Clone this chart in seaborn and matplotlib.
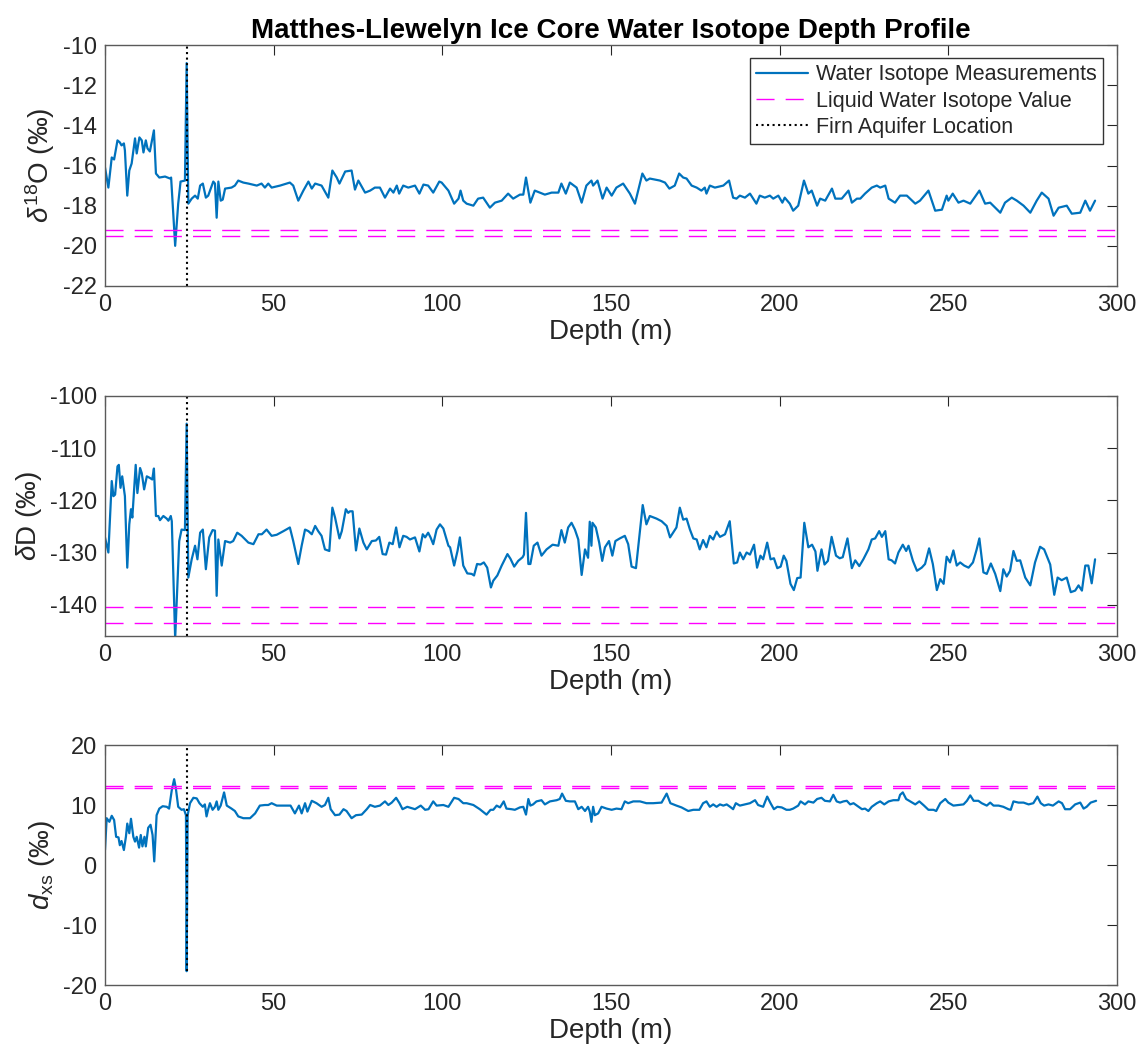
import numpy as np
import pandas as pd
import matplotlib
matplotlib.use("Agg")
import matplotlib.pyplot as plt
import seaborn as sns

# ---------------- data ----------------
d18o_depth = [0, 1.0, 2.0, 2.7, 3.7, 4.4, 4.9, 5.6, 5.9, 6.6, 7.2, 7.9, 8.9, 9.4, 10.2, 10.9, 11.4, 12.1, 12.6, 13.3,
              14.5, 15.1, 16.1, 17.8, 19.3, 19.6, 20.8, 21.7, 22.4, 23.7, 24.2, 24.7, 25.7, 26.7, 27.5, 28.2, 29.0, 29.9,
              30.6, 32.1, 32.6, 33.1, 33.6, 34.3, 34.9, 35.6, 37.5, 38.5, 39.5, 41.0, 42.5, 45.0, 46.4, 47.4, 48.4, 49.4,
              51.9, 54.8, 55.8, 57.3, 58.8, 60.3, 61.3, 62.3, 64.2, 66.2, 67.4, 68.7, 69.5, 71.2, 73.1, 74.1, 75.1, 77.1,
              78.6, 80.0, 81.5, 83.0, 84.5, 85.5, 86.5, 87.2, 88.4, 89.9, 91.9, 93.2, 94.4, 95.8, 97.3, 99.1, 99.8, 101.8,
              103.5, 104.8, 105.4, 106.2, 107.2, 109.2, 110.6, 112.1, 114.1, 115.6, 117.6, 119.5, 121.0, 123.0, 124.0,
              124.8, 126.1, 127.4, 128.9, 130.4, 132.4, 134.4, 135.3, 136.6, 137.8, 139.8, 141.3, 142.7, 144.2, 144.7,
              146.0, 147.5, 148.7, 150.2, 151.6, 153.6, 155.6, 157.1, 159.3, 160.5, 161.5, 164.5, 166.0, 167.3, 168.9,
              170.2, 171.4, 172.4, 173.9, 175.4, 176.8, 177.8, 178.3, 179.3, 180.8, 183.3, 185.0, 186.2, 187.2, 188.2,
              189.7, 191.2, 193.1, 194.1, 195.6, 197.1, 198.1, 199.6, 200.8, 201.5, 203.0, 204.0, 205.5, 207.2, 208.5,
              209.5, 211.1, 212.0, 213.5, 215.5, 216.5, 218.4, 220.4, 221.4, 222.9, 223.9, 225.3, 227.3, 228.8, 229.8,
              231.3, 232.3, 234.2, 235.7, 237.7, 240.2, 241.6, 244.1, 246.1, 248.1, 249.5, 250.0, 251.3, 253.0, 254.5,
              256.5, 259.2, 260.9, 262.4, 263.9, 265.4, 266.8, 268.8, 270.3, 272.3, 274.3, 276.2, 277.7, 279.7, 281.2,
              282.7, 285.1, 286.6, 289.1, 290.6, 292.0, 293.5]
d18o_value = [-16.1, -17.1, -15.6, -15.7, -14.75, -14.85, -15.0, -14.9, -15.25, -17.5, -16.25, -15.9, -14.65, -15.4,
              -14.6, -14.75, -15.35, -14.75, -15.15, -15.3, -14.25, -16.4, -16.6, -16.55, -16.65, -16.6, -20.0, -17.9,
              -16.8, -16.75, -10.9, -17.9, -17.65, -17.5, -17.65, -17.0, -16.9, -17.6, -17.5, -16.8, -16.9, -18.6,
              -16.8, -17.75, -17.7, -17.15, -17.1, -17.0, -16.75, -16.85, -16.9, -17.0, -16.9, -17.1, -16.9, -17.1,
              -17.0, -16.85, -17.0, -17.75, -17.25, -16.8, -17.15, -16.9, -17.0, -17.6, -16.25, -16.6, -16.9, -16.3,
              -16.25, -17.2, -16.75, -17.35, -17.25, -17.1, -17.1, -17.6, -17.15, -17.35, -17.0, -17.4, -17.0, -17.1,
              -17.0, -17.4, -16.95, -17.0, -17.35, -16.8, -16.85, -17.25, -17.9, -17.65, -17.25, -17.75, -17.9, -18.0,
              -17.65, -17.6, -18.1, -17.85, -17.75, -17.4, -17.65, -17.45, -17.45, -16.6, -17.85, -17.25, -17.35,
              -17.45, -17.35, -17.35, -16.9, -17.4, -16.85, -17.1, -17.85, -17.0, -16.75, -17.0, -16.75, -17.65, -17.1,
              -17.5, -17.1, -16.9, -17.4, -17.9, -16.4, -16.75, -16.65, -16.75, -16.85, -17.15, -17.0, -16.4, -16.6,
              -16.65, -17.0, -17.1, -17.25, -17.1, -17.4, -17.0, -17.1, -17.0, -16.75, -17.6, -17.65, -17.5, -17.6,
              -17.4, -17.9, -17.5, -17.6, -17.5, -17.65, -17.5, -17.85, -17.6, -17.9, -18.25, -18.0, -16.75, -17.4,
              -17.25, -18.0, -17.65, -17.75, -17.15, -17.65, -17.65, -17.25, -17.85, -17.65, -17.65, -17.4, -17.1,
              -17.0, -17.1, -17.0, -17.65, -17.85, -17.5, -17.5, -17.9, -17.75, -17.25, -18.25, -18.2, -17.5, -17.75,
              -17.4, -17.85, -17.75, -17.9, -17.25, -17.9, -17.85, -18.1, -18.35, -17.85, -17.6, -17.75, -18.0, -18.35,
              -17.75, -17.35, -17.65, -18.5, -18.1, -18.0, -18.4, -18.35, -17.75, -18.25, -17.75]

dD_depth = [0, 1.0, 2.0, 2.5, 3.0, 3.7, 4.1, 4.6, 5.1, 5.9, 6.6, 7.2, 7.7, 8.1, 9.1, 9.6, 10.4, 10.9, 11.6, 12.4, 13.3,
            14.0, 14.5, 15.1, 15.8, 16.3, 17.3, 18.3, 18.8, 19.5, 19.8, 20.8, 22.0, 22.7, 23.7, 24.2, 24.7, 25.7, 26.7,
            27.4, 28.2, 29.0, 29.9, 30.9, 31.9, 32.6, 33.1, 33.6, 34.6, 35.6, 37.1, 38.0, 39.2, 40.5, 42.5, 44.0, 45.5,
            46.5, 47.9, 49.4, 50.9, 52.9, 54.8, 55.8, 57.3, 58.3, 59.3, 60.3, 61.3, 62.3, 63.2, 64.2, 65.2, 66.5, 67.4,
            68.2, 69.5, 70.2, 71.4, 72.1, 72.6, 73.4, 74.4, 75.4, 76.6, 77.6, 79.1, 80.3, 81.3, 82.3, 83.3, 84.3, 85.3,
            86.3, 87.3, 88.4, 89.4, 90.4, 91.9, 93.2, 94.2, 94.9, 95.8, 96.5, 97.3, 98.3, 99.3, 100.3, 101.8, 102.3,
            103.5, 104.5, 105.2, 106.2, 107.4, 108.7, 109.4, 110.3, 111.3, 112.3, 113.3, 114.4, 115.1, 116.3, 117.6,
            119.3, 120.2, 121.3, 122.5, 123.8, 124.2, 124.8, 125.5, 126.1, 127.1, 128.2, 129.4, 130.9, 132.7, 134.4,
            135.3, 136.3, 137.3, 138.3, 139.3, 140.3, 141.3, 142.3, 143.2, 143.7, 144.2, 144.5, 145.5, 146.5, 147.4,
            148.2, 149.4, 150.4, 151.3, 152.6, 154.1, 155.1, 156.1, 157.4, 159.4, 160.5, 161.5, 163.5, 165.0, 166.5,
            167.5, 168.4, 169.4, 170.4, 171.4, 172.4, 173.4, 174.4, 175.4, 176.3, 177.3, 178.3, 179.3, 180.3, 181.3,
            182.3, 183.8, 185.2, 186.4, 187.4, 188.2, 189.2, 190.2, 191.2, 192.4, 193.3, 194.3, 195.1, 196.3, 197.3,
            198.3, 199.3, 200.3, 201.2, 202.0, 203.2, 204.2, 205.2, 206.2, 207.3, 208.5, 209.6, 210.6, 211.2, 212.4,
            213.3, 214.3, 215.4, 216.7, 217.8, 218.7, 220.1, 221.4, 222.4, 223.6, 224.8, 226.3, 227.3, 228.3, 229.5,
            230.3, 231.3, 232.3, 233.2, 234.2, 235.2, 236.5, 237.5, 238.2, 239.5, 240.7, 242.1, 243.1, 244.3, 245.4,
            246.6, 247.6, 248.6, 249.5, 250.5, 251.5, 252.5, 253.5, 254.7, 256.0, 257.3, 258.4, 259.2, 260.4, 261.4,
            262.6, 263.9, 265.4, 266.3, 267.3, 268.3, 269.3, 270.3, 271.3, 272.8, 274.3, 275.7, 277.2, 278.4, 280.2,
            281.4, 282.4, 283.6, 285.1, 286.3, 287.6, 288.6, 289.6, 290.6, 291.5, 292.5, 293.5]
dD_value = [-127.1, -130.0, -116.3, -119.2, -118.9, -113.5, -113.2, -117.6, -115.4, -119.2, -132.9, -124.6, -121.7,
            -123.3, -113.2, -118.6, -113.8, -114.8, -117.9, -115.4, -115.7, -116.0, -113.9, -123.0, -123.0, -123.8,
            -123.0, -123.5, -123.9, -123.0, -124.0, -146.5, -127.8, -125.6, -125.7, -105.3, -134.8, -131.3, -128.7,
            -131.3, -126.2, -125.6, -133.2, -127.1, -125.7, -125.8, -138.3, -127.5, -132.5, -127.8, -128.1, -127.8,
            -126.2, -126.8, -128.1, -128.4, -126.5, -126.5, -125.6, -126.8, -126.6, -125.9, -125.2, -127.8, -132.2,
            -128.7, -125.6, -125.9, -126.5, -124.9, -125.9, -126.8, -129.4, -129.7, -121.4, -123.3, -127.3, -125.9,
            -121.7, -122.4, -122.1, -122.1, -129.6, -125.4, -128.1, -129.4, -127.8, -127.7, -127.0, -130.3, -130.4,
            -128.1, -128.4, -125.2, -129.0, -126.8, -127.0, -127.5, -127.1, -129.8, -126.5, -127.1, -126.2, -127.1,
            -128.4, -125.6, -124.6, -125.4, -128.7, -129.0, -132.5, -129.7, -127.1, -132.5, -134.0, -134.1, -134.4,
            -132.2, -132.3, -131.9, -132.9, -136.7, -135.4, -134.4, -132.5, -130.3, -131.2, -132.7, -131.6, -130.9,
            -130.4, -122.4, -132.2, -132.2, -128.7, -128.1, -130.6, -129.4, -128.5, -128.7, -125.7, -128.1, -125.2,
            -124.3, -125.6, -127.5, -134.3, -129.4, -131.0, -124.1, -128.7, -124.3, -125.2, -128.1, -131.6, -129.0,
            -127.8, -130.6, -127.8, -127.3, -126.8, -128.4, -132.7, -133.0, -120.9, -124.6, -123.0, -123.5, -124.0,
            -124.9, -127.1, -126.2, -125.2, -121.4, -123.7, -123.5, -125.6, -127.3, -127.5, -129.4, -127.6, -129.0,
            -126.8, -127.5, -126.0, -127.0, -126.5, -124.0, -132.1, -131.9, -130.0, -131.3, -130.0, -130.4, -128.5,
            -132.9, -130.6, -131.3, -128.1, -131.3, -131.1, -133.0, -132.7, -130.6, -131.6, -136.0, -137.2, -134.9,
            -134.8, -124.3, -129.0, -128.5, -129.8, -133.5, -129.4, -132.3, -131.6, -127.0, -130.6, -131.1, -130.9,
            -127.3, -133.0, -131.5, -132.6, -131.3, -129.4, -127.5, -127.3, -125.9, -127.0, -125.9, -131.3, -131.5,
            -132.1, -130.0, -128.5, -129.7, -128.7, -131.6, -133.5, -132.9, -132.2, -129.2, -132.2, -137.2, -135.1,
            -136.0, -130.8, -131.9, -129.6, -132.5, -131.9, -132.5, -132.9, -131.9, -129.4, -127.3, -133.8, -134.1,
            -132.1, -134.1, -137.4, -133.2, -134.6, -133.5, -129.7, -131.6, -131.5, -134.8, -136.3, -131.9, -128.9,
            -129.4, -132.3, -138.1, -134.8, -135.3, -134.8, -137.6, -137.3, -136.3, -137.3, -132.5, -132.5, -135.9,
            -131.3]

dxs_depth = [0, 0.5, 1.3, 2.0, 2.7, 3.3, 4.0, 4.4, 4.9, 5.6, 6.2, 6.6, 7.2, 7.7, 8.4, 8.9, 9.4, 10.1, 10.6, 11.1, 11.7,
             12.1, 12.8, 13.5, 14.1, 14.6, 15.3, 16.1, 17.1, 18.3, 19.0, 19.8, 20.5, 21.0, 21.7, 22.7, 23.4, 24.0, 24.2,
             24.5, 25.2, 26.2, 27.2, 28.0, 29.0, 29.6, 30.1, 30.6, 31.1, 31.9, 32.6, 33.1, 33.6, 34.3, 35.3, 36.1, 37.5,
             38.5, 39.5, 41.0, 43.0, 44.5, 45.9, 47.4, 48.4, 49.4, 50.9, 52.9, 55.0, 56.3, 57.5, 58.3, 59.3, 60.0, 61.3,
             62.7, 64.2, 65.2, 66.2, 66.9, 68.2, 69.5, 70.7, 71.6, 73.1, 74.4, 76.1, 77.6, 78.6, 80.0, 81.5, 83.0, 84.0,
             85.0, 86.3, 87.3, 88.2, 89.6, 91.9, 93.6, 94.9, 95.9, 97.3, 98.3, 100.3, 101.8, 103.5, 104.8, 106.2, 107.2,
             109.2, 111.1, 113.1, 114.3, 115.1, 116.1, 117.1, 118.2, 119.0, 120.5, 121.5, 123.0, 124.0, 124.8, 125.5,
             126.1, 126.9, 127.9, 129.4, 130.4, 131.9, 133.9, 134.8, 135.5, 136.6, 137.8, 139.3, 140.3, 141.3, 142.3,
             143.2, 143.7, 144.2, 144.7, 145.2, 146.2, 147.2, 148.7, 150.2, 151.6, 153.1, 154.1, 155.1, 156.6, 158.6,
             160.5, 162.5, 165.0, 166.5, 167.6, 169.4, 170.9, 172.9, 174.4, 176.2, 177.3, 178.3, 179.3, 180.3, 181.3,
             182.3, 183.3, 184.3, 185.3, 186.2, 187.0, 188.2, 189.7, 191.2, 192.7, 193.6, 195.1, 196.3, 197.3, 198.3,
             199.3, 200.6, 202.0, 203.0, 204.0, 205.5, 206.2, 207.5, 208.5, 210.0, 211.1, 212.4, 213.4, 214.9, 215.9,
             216.9, 217.9, 218.9, 219.9, 220.9, 221.9, 222.9, 224.4, 225.3, 226.3, 227.3, 228.8, 229.8, 231.0, 232.3,
             233.7, 235.2, 235.7, 236.5, 237.5, 238.7, 240.2, 241.4, 242.8, 244.1, 245.6, 246.4, 247.6, 249.1, 250.0,
             251.5, 253.0, 254.5, 255.5, 256.5, 257.5, 258.9, 259.9, 261.4, 262.4, 263.4, 264.9, 266.3, 267.8, 268.5,
             269.3, 270.8, 272.3, 273.8, 275.2, 276.4, 277.4, 278.4, 279.7, 281.0, 282.7, 283.7, 284.6, 286.1, 287.6,
             289.1, 290.1, 291.0, 292.2, 293.8]
dxs_value = [2.5, 7.8, 7.2, 8.2, 7.5, 4.7, 4.6, 3.3, 4.0, 2.5, 4.7, 6.9, 5.3, 7.7, 4.7, 3.9, 4.7, 2.9, 5.0, 3.1, 4.7,
             3.1, 6.2, 6.7, 5.0, 0.6, 8.3, 9.4, 9.8, 9.7, 9.4, 12.5, 14.3, 12.8, 9.7, 9.2, 9.3, 8.3, -17.7, 8.3, 10.3,
             11.2, 11.1, 10.3, 9.7, 10.1, 8.1, 9.3, 10.3, 9.2, 9.7, 10.6, 9.2, 9.9, 12.1, 9.9, 9.4, 9.0, 8.1, 7.8, 7.8,
             8.6, 9.9, 10.0, 10.0, 10.3, 9.9, 9.9, 9.9, 8.6, 9.9, 8.6, 10.3, 8.9, 10.7, 10.3, 9.7, 10.0, 11.2, 9.3, 8.3,
             8.4, 9.3, 9.0, 7.8, 8.3, 8.4, 9.3, 10.0, 9.7, 9.9, 10.6, 10.0, 10.4, 11.2, 10.3, 9.3, 9.7, 9.3, 9.9, 9.2,
             9.3, 10.6, 9.9, 10.0, 9.7, 11.2, 11.0, 10.3, 10.3, 10.0, 9.3, 8.4, 9.2, 9.2, 9.9, 9.6, 10.6, 9.4, 9.3, 9.2,
             9.6, 9.7, 8.4, 11.0, 9.9, 10.1, 10.6, 10.8, 10.1, 10.6, 10.8, 11.0, 11.9, 10.7, 10.6, 10.6, 9.3, 9.7, 9.0,
             9.7, 8.9, 7.2, 9.7, 8.3, 8.6, 9.7, 9.4, 9.2, 9.4, 9.3, 10.6, 10.3, 10.6, 10.6, 10.3, 10.3, 10.4, 11.9, 10.3,
             9.9, 9.6, 9.0, 9.2, 9.2, 10.3, 10.6, 9.7, 10.1, 9.7, 10.1, 9.9, 10.1, 9.7, 9.3, 10.3, 9.9, 10.1, 10.3, 10.8,
             10.0, 9.7, 11.4, 10.3, 9.3, 9.7, 9.6, 9.2, 9.2, 9.4, 9.9, 10.6, 10.1, 10.6, 10.4, 11.0, 11.2, 10.7, 10.6,
             11.7, 10.6, 10.4, 10.6, 10.7, 10.1, 10.3, 9.9, 9.3, 9.4, 9.0, 9.7, 10.3, 10.6, 10.1, 10.6, 10.8, 10.8, 11.7,
             12.1, 11.0, 10.6, 10.1, 10.6, 9.9, 9.2, 9.2, 9.0, 10.3, 11.0, 10.4, 9.9, 10.0, 10.1, 10.7, 11.6, 10.7, 10.7,
             10.3, 9.9, 10.4, 9.9, 9.9, 9.7, 9.3, 9.2, 10.6, 10.4, 10.4, 10.1, 10.3, 11.4, 10.3, 9.9, 10.1, 9.9, 10.6,
             10.3, 9.3, 9.3, 10.1, 10.4, 9.4, 9.7, 10.4, 10.7]

liquid_d18o = [-19.2, -19.5]
liquid_dD = [-140.5, -143.6]
liquid_dxs = [13.2, 12.8]
aquifer_depth = 24.3

title = "Matthes-Llewelyn Ice Core Water Isotope Depth Profile"
legend_labels = ["Water Isotope Measurements", "Liquid Water Isotope Value", "Firn Aquifer Location"]
ylabels = [r"$\delta^{18}$O (‰)", r"$\delta$D (‰)", r"$d_{\rm xs}$ (‰)"]
ylims = [(-22, -10), (-146, -100), (-20, 20)]
yticks = [np.arange(-22, -9, 2), np.arange(-140, -99, 10), np.arange(-20, 21, 10)]

# ---------------- style ----------------
sns.set_theme(style="white")
plt.rcParams["font.family"] = ["Liberation Sans", "DejaVu Sans"]
plt.rcParams["mathtext.fontset"] = "custom"
plt.rcParams["mathtext.rm"] = "Liberation Sans"
plt.rcParams["mathtext.it"] = "Liberation Sans:italic"
plt.rcParams["mathtext.bf"] = "Liberation Sans:bold"
plt.rcParams["axes.unicode_minus"] = False

BLUE = "#0072BD"
MAG = "#FF00FF"
TXT = "#262626"

fig = plt.figure(figsize=(11.41, 10.59), dpi=100)
W, H = 1141, 1059
left, right = 105, 1117
tops = [45, 396, 745]
bots = [286, 636, 985]

series = [(d18o_depth, d18o_value, liquid_d18o),
          (dD_depth, dD_value, liquid_dD),
          (dxs_depth, dxs_value, liquid_dxs)]

axes = []
for i, (dep, val, liq) in enumerate(series):
    ax = fig.add_axes([left / W, 1 - bots[i] / H, (right - left) / W, (bots[i] - tops[i]) / H])
    axes.append(ax)
    df = pd.DataFrame({"depth": dep, "value": val})
    sns.lineplot(data=df, x="depth", y="value", ax=ax, color=BLUE, lw=1.6,
                 sort=False, estimator=None, label=legend_labels[0] if i == 0 else None, legend=False)
    for k, lv in enumerate(liq):
        ax.axhline(lv, color=MAG, lw=1.0, dashes=(13, 8),
                   label=legend_labels[1] if (i == 0 and k == 0) else None)
    if i < 2:
        ax.axvline(aquifer_depth, color="black", lw=1.5, ls=":",
                   label=legend_labels[2] if i == 0 else None)
    else:
        ax.vlines(aquifer_depth, min(val), ylims[i][1], color="black", lw=1.5, ls=":")
    ax.set_xlim(0, 300)
    ax.set_xticks(np.arange(0, 301, 50))
    ax.set_ylim(*ylims[i])
    ax.set_yticks(yticks[i])
    ax.set_xlabel("Depth (m)", fontsize=20, color=TXT, labelpad=2)
    ax.set_ylabel(ylabels[i], fontsize=20, color=TXT, labelpad=4)
    ax.tick_params(direction="in", top=True, right=True, length=7, width=0.8,
                   labelsize=17, colors=TXT, pad=6)
    for sp in ax.spines.values():
        sp.set_color("#5a5a5a")
        sp.set_linewidth(1.0)

axes[0].set_title(title, fontsize=20, fontweight="bold", color="black", pad=5)
leg = axes[0].legend(loc="upper right", bbox_to_anchor=(0.986, 0.947), borderaxespad=0,
                     fontsize=15.5, frameon=True, fancybox=False, edgecolor="black",
                     handlelength=2.4, handletextpad=0.35, labelspacing=0.25, borderpad=0.3)
leg.get_frame().set_linewidth(1.0)

fig.savefig("out.png", dpi=100, facecolor="white")
